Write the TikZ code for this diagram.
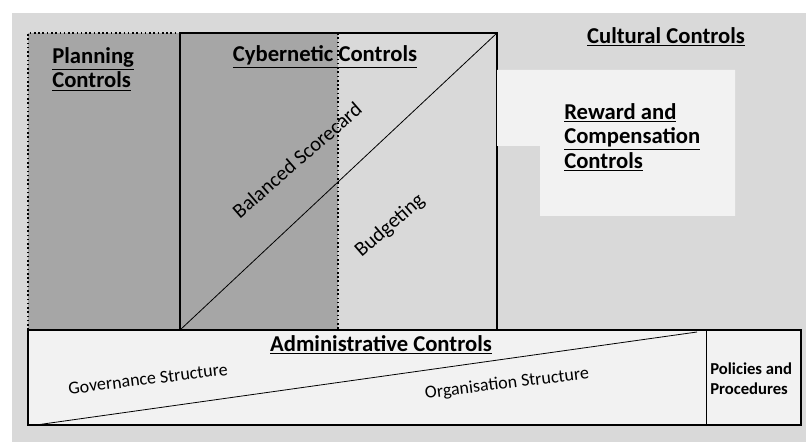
\documentclass[tikz,border=0pt]{standalone}
\usepackage{fontspec}
\setmainfont{Carlito}
\definecolor{dkgray}{HTML}{A6A6A6}
\definecolor{ltgray}{HTML}{D9D9D9}
\definecolor{paleg}{HTML}{F2F2F2}
\begin{document}
\begin{tikzpicture}[x=0.75pt,y=-0.75pt,
  title/.style={font=\fontsize{17}{18.5}\selectfont\bfseries, inner sep=0pt, align=left},
  sublabel/.style={font=\fontsize{15.5}{18}\selectfont, inner sep=0pt},
  small/.style={font=\fontsize{13.5}{16}\selectfont, inner sep=0pt},
  thickline/.style={line width=1.2pt},
  thinline/.style={line width=0.6pt}]
\useasboundingbox (0,0) rectangle (809,445);
\fill[white] (0,0) rectangle (809,445);
\fill[ltgray] (12,13) rectangle (806,442);
% Planning controls
\fill[dkgray] (28,33) rectangle (338,330);
\draw[thickline, dotted] (28,330) -- (28,33) -- (180,33);
\draw[thickline, dotted] (338,33) -- (338,330);
% Cybernetic box
\draw[thickline] (180,330) -- (180,33) -- (497,33) -- (497,330);
\draw[thinline] (180,330) -- (497,33);
% Reward box
\fill[paleg] (497,70) -- (735,70) -- (735,216) -- (540,216) -- (540,146) -- (497,146) -- cycle;
% Administrative box
\fill[paleg] (28,330) rectangle (801,425);
\draw[thickline] (28,330) rectangle (801,425);
\draw[thinline] (706,330) -- (706,425);
\draw[thinline] (36,425) -- (697,332);
% Texts
\node[title, anchor=north west] (plan) at (52,47) {\underline{Planning}\\\underline{Controls}};
\node[title] (cyber) at (325,57) {\underline{Cybernetic Controls}};
\node[title] (cult) at (666,37) {\underline{Cultural Controls}};
\node[title, anchor=north west] (reward) at (564,103) {\underline{Reward and}\\\underline{Compensation}\\\underline{Controls}};
\node[title] (admin) at (381,345) {\underline{Administrative Controls}};
\node[sublabel, rotate=41] (bsc) at (297,160) {Balanced Scorecard};
\node[sublabel, rotate=41] (budg) at (390,226) {Budgeting};
\node[small, rotate=7] (gov) at (148,379) {Governance Structure};
\node[small, rotate=7] (org) at (507,384) {Organisation Structure};
\node[font=\fontsize{12.5}{15}\selectfont\bfseries, inner sep=0pt, align=left, anchor=west] (pol) at (710,379) {Policies and\\Procedures};
\end{tikzpicture}
\end{document}
